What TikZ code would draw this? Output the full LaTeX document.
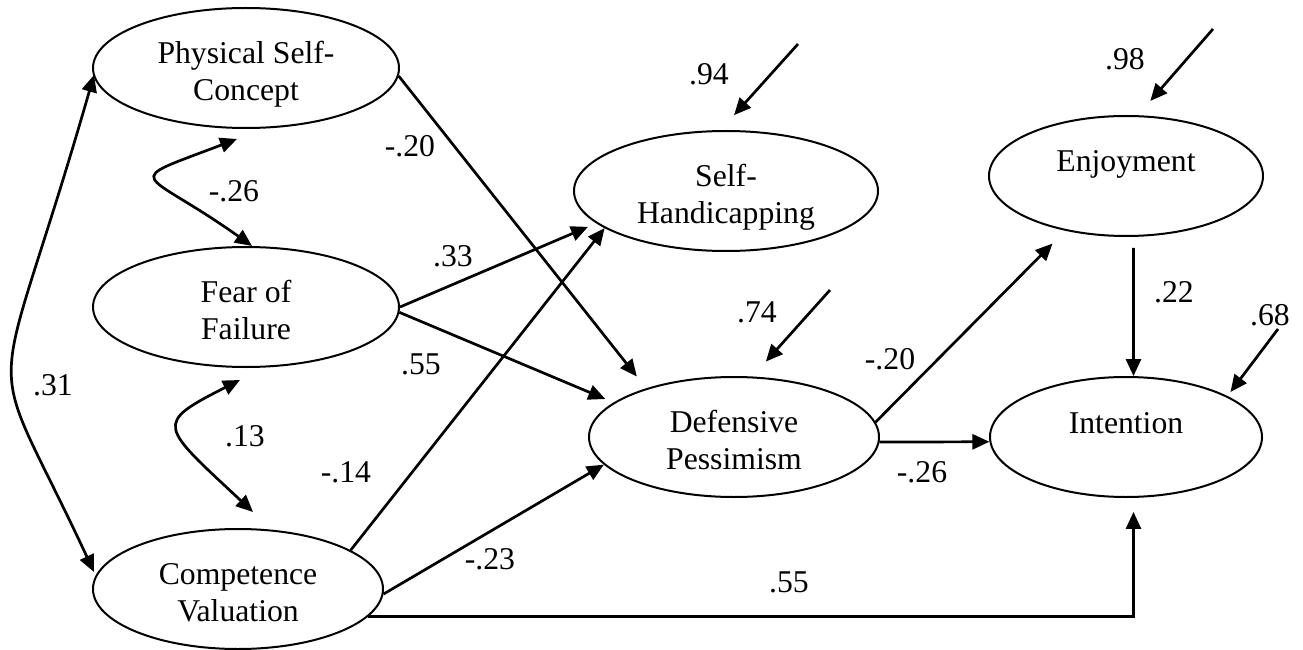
\documentclass[tikz,border=0pt]{standalone}
\usepackage{fontspec}
\setmainfont{Liberation Serif}
\usetikzlibrary{arrows.meta,calc,shapes.geometric}
\newcommand{\twoline}[2]{\raisebox{-13pt}[30pt][30pt]{\begin{tabular}{@{}c@{}}#1\\#2\end{tabular}}}
\begin{document}
\begin{tikzpicture}[x=1pt,y=1pt,
  lat/.style={ellipse,draw,line width=2pt,inner sep=0pt,align=center,
    font=\fontsize{31.7}{36.7}\selectfont},
  lbl/.style={inner sep=0pt,font=\fontsize{31.7}{36.7}\selectfont},
  arr/.style={line width=2.7pt,-{Triangle[length=17pt,width=15pt]}},
  darr/.style={line width=2.7pt,{Triangle[length=17pt,width=15pt]}-{Triangle[length=17pt,width=15pt]}}]
\useasboundingbox (0,0) rectangle (1303,649);
% latent variables
\node[lat,minimum width=306pt,minimum height=120pt] (psc) at (246,581) {\twoline{Physical Self-}{Concept}};
\node[lat,minimum width=306pt,minimum height=120pt] (fof) at (246,342) {\twoline{Fear of}{Failure}};
\node[lat,minimum width=290pt,minimum height=120pt] (cv) at (238,60) {\twoline{Competence}{Valuation}};
\node[lat,minimum width=304pt,minimum height=120pt] (sh) at (726,458) {\twoline{Self-}{Handicapping}};
\node[lat,minimum width=290pt,minimum height=120pt] (dp) at (734,212) {\twoline{Defensive}{Pessimism}};
\node[lat,minimum width=274pt,minimum height=120pt,text height=22pt,text depth=30pt] (enj) at (1126,473) {Enjoyment};
\node[lat,minimum width=272pt,minimum height=120pt,text height=22pt,text depth=30pt] (int) at (1126,212) {Intention};
% residual starts
\coordinate (r94) at (798,605);
\coordinate (r98) at (1213,620);
\coordinate (r74) at (830,359);
\coordinate (r68) at (1278,320);
% paths
\draw[arr,shorten >=15pt] (psc.-3) -- (dp.151);
\draw[arr,shorten >=9pt] (fof.0) -- (sh.194);
\draw[arr,shorten >=9pt] (fof.-2) -- (dp.164);
\draw[arr] (cv.19) -- (sh.197);
\draw[arr] (cv.-2) -- (dp.192);
\draw[arr,shorten >=14pt] (cv.-12) -| (int.-83);
\draw[arr,shorten >=18pt] (dp.6) -- (enj.222);
\draw[arr] (dp.-2) -- (int.182);
\draw[arr,shorten <=11pt] (enj.-83) -- (int.83);
% residuals
\draw[arr,shorten >=20pt] (r94) -- (sh.95);
\draw[arr,shorten >=19pt] (r98) -- (enj.79);
\draw[arr,shorten >=20pt] (r74) -- (dp.73);
\draw[arr,shorten >=5pt] (r68) -- (int.22);
% correlations
\draw[darr] ($(psc.south)+(-9,-10)$) .. controls (117.5,464.4) and (141,482) .. ($(fof.north)+(6,0)$);
\draw[darr] ($(fof.south)+(-6,-12)$) .. controls (153,225) and (160,224) .. ($(cv.north)+(15,16)$);
\draw[darr] ($(psc.west)+(2,-7)$) .. controls (-9.3,214.4) and (-19.5,320.6) .. ($(cv.west)+(2,17)$);
% labels
\node[lbl] (l94) at (709,575) {.94};
\node[lbl] (l98) at (1125,590) {.98};
\node[lbl] (l74) at (757,337) {.74};
\node[lbl] (l68) at (1270,334) {.68};
\node[lbl] (lpd) at (410,503) {-.20};
\node[lbl] (lpf) at (234,458) {-.26};
\node[lbl] (lfs) at (453,393) {.33};
\node[lbl] (lfd) at (421,285) {.55};
\node[lbl] (lpc) at (53,264) {.31};
\node[lbl] (lfc) at (245,213) {.13};
\node[lbl] (lcs) at (346,177) {-.14};
\node[lbl] (lcd) at (490,90) {-.23};
\node[lbl] (lci) at (789,67) {.55};
\node[lbl] (lde) at (890,290) {-.20};
\node[lbl] (ldi) at (922,177) {-.26};
\node[lbl] (lei) at (1174,357) {.22};
\end{tikzpicture}
\end{document}
